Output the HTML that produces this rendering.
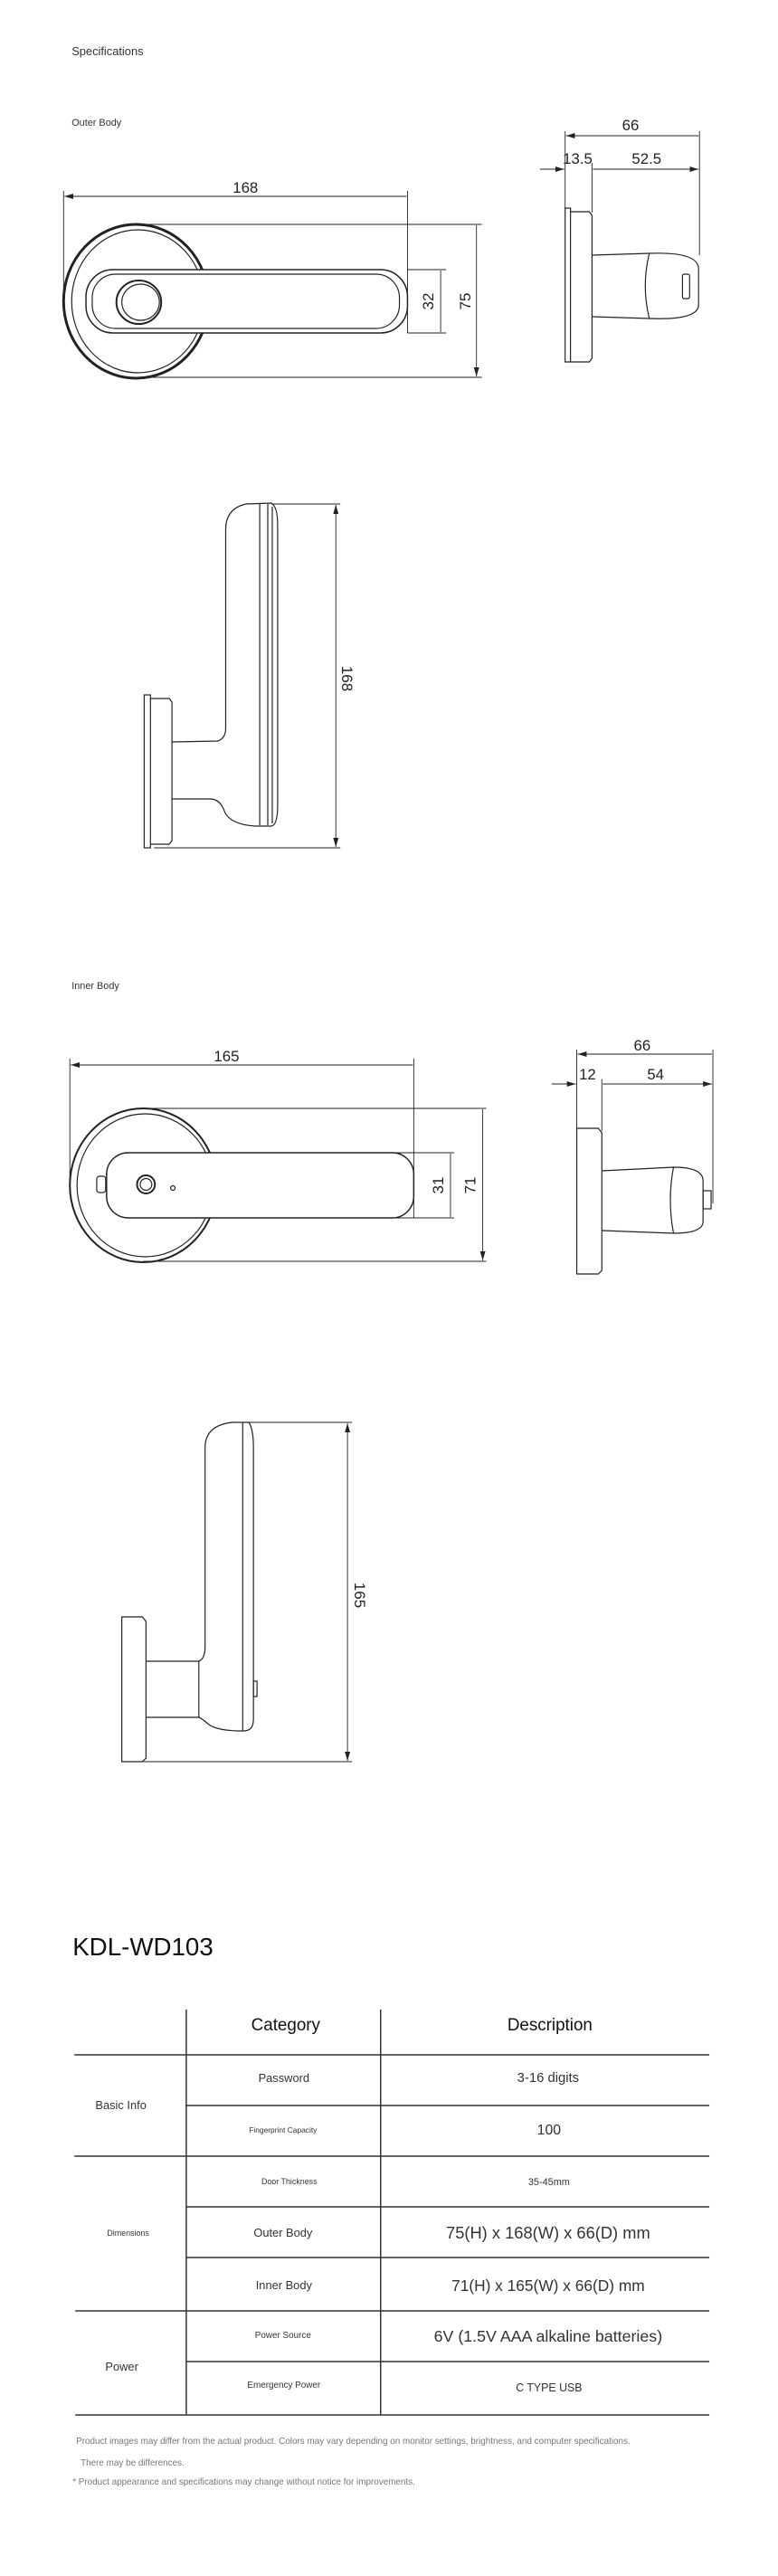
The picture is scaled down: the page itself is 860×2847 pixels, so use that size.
<!DOCTYPE html>
<html><head><meta charset="utf-8"><style>
html,body{margin:0;padding:0;background:#fff}
svg{display:block}
text{font-family:"Liberation Sans",sans-serif}
</style></head><body>
<svg width="860" height="2847" viewBox="0 0 860 2847" xmlns="http://www.w3.org/2000/svg">
<defs>
<marker id="a" viewBox="0 0 10 6" refX="10" refY="3" markerWidth="10" markerHeight="6" orient="auto-start-reverse" markerUnits="userSpaceOnUse"><path d="M0,0 L10,3 L0,6 Z" fill="#222"/></marker>
</defs>
<g transform="scale(0.99,1)">
<g fill="#333" font-size="13">
<text x="80" y="61">Specifications</text>
<text x="80" y="139" font-size="11">Outer Body</text>
<text x="80" y="1093" font-size="11">Inner Body</text>
</g>

<!-- OUTER FRONT -->
<g fill="none" stroke="#222" stroke-width="1.2">
<ellipse cx="152" cy="333" rx="81" ry="85" stroke-width="3"/>
<ellipse cx="154" cy="333" rx="74" ry="79"/>
<rect x="96" y="298" width="359" height="70" rx="30" fill="#fff" stroke-width="1.5"/>
<rect x="103" y="303" width="343" height="60" rx="26"/>
<ellipse cx="155" cy="334" rx="25" ry="24" stroke-width="2"/>
<ellipse cx="157" cy="334" rx="21" ry="20"/>
<path d="M71,211 V333 M455,211 V368 M158,248 H538 M158,417 H538 M455,298 H498 M455,368 H498" stroke-width="0.9"/>
<path d="M72,217 H454 M492,299 V367 M532,249 V416" marker-start="url(#a)" marker-end="url(#a)" stroke-width="0.9"/>
</g>
<g font-size="17" fill="#222" text-anchor="middle">
<text x="274" y="213">168</text>
<text transform="translate(484,333) rotate(-90)">32</text>
<text transform="translate(525,333) rotate(-90)">75</text>
</g>

<!-- OUTER SIDE -->
<g fill="none" stroke="#222" stroke-width="1.2">
<path d="M631,230 H637 V400 H631 Z"/>
<path d="M637,234 H658 L661,238 V396 L658,400 H637"/>
<path d="M661,282 L725,280 Q778,278 780,296 V338 Q778,354 725,352 L661,350"/>
<path d="M725,280 Q716,316 725,352"/>
<rect x="762" y="303" width="8" height="27" rx="2"/>
<path d="M631,145 V230 M661,180 V235 M781,145 V282" stroke-width="0.9"/>
<path d="M632,150 H780 M662,187 H780" marker-start="url(#a)" marker-end="url(#a)" stroke-width="0.9"/>
<path d="M603,187 H630" marker-end="url(#a)" stroke-width="0.9"/>
</g>
<g font-size="17" fill="#222" text-anchor="middle">
<text x="704" y="144">66</text>
<text x="645" y="181">13.5</text>
<text x="722" y="181">52.5</text>
</g>

<!-- OUTER LEVER SIDE -->
<g fill="none" stroke="#222" stroke-width="1.2">
<rect x="161" y="768" width="7" height="169"/>
<path d="M168,772 H189 L192,776 V929 L189,933 H168"/>
<path d="M192,820 L243,819 Q252,816 252,805 V585 Q252,562 275,557 L303,556 Q310,560 310,580 V890 Q310,912 303,913 L285,913 Q255,911 250,895 Q245,883 235,883 L192,883"/>
<path d="M290,557 V912 M299,557 V912 M304,560 V910"/>
<path d="M303,557 H380 M172,937 H380" stroke-width="0.9"/>
<path d="M375,558 V936" marker-start="url(#a)" marker-end="url(#a)" stroke-width="0.9"/>
</g>
<text transform="translate(382,750) rotate(90)" font-size="17" fill="#222" text-anchor="middle">168</text>

<!-- INNER FRONT -->
<g fill="none" stroke="#222" stroke-width="1.2">
<ellipse cx="160" cy="1310" rx="82" ry="85" stroke-width="2"/>
<ellipse cx="162" cy="1310" rx="76" ry="79"/>
<rect x="108" y="1300" width="10" height="18" rx="3"/>
<rect x="119" y="1274" width="343" height="72" rx="24" fill="#fff" stroke-width="1.5"/>
<circle cx="163" cy="1309" r="10" stroke-width="2"/>
<circle cx="163" cy="1309" r="6.5"/>
<circle cx="193" cy="1313" r="2.5"/>
<path d="M78,1170 V1310 M462,1170 V1346 M160,1225 H543 M160,1394 H543 M440,1274 H507 M440,1346 H507" stroke-width="0.9"/>
<path d="M79,1177 H461 M503,1275 V1345 M539,1226 V1393" marker-start="url(#a)" marker-end="url(#a)" stroke-width="0.9"/>
</g>
<g font-size="17" fill="#222" text-anchor="middle">
<text x="253" y="1173">165</text>
<text transform="translate(495,1310) rotate(-90)">31</text>
<text transform="translate(531,1310) rotate(-90)">71</text>
</g>

<!-- INNER SIDE -->
<g fill="none" stroke="#222" stroke-width="1.2">
<path d="M644,1247 H668 L672,1252 V1404 L668,1408 H644 Z"/>
<path d="M672,1294 L752,1290 Q785,1290 785,1305 V1350 Q785,1363 752,1363 L672,1360"/>
<path d="M752,1290 Q745,1326 752,1363"/>
<rect x="785" y="1316" width="9" height="20"/>
<path d="M644,1160 V1247 M672,1193 V1250 M796,1160 V1330" stroke-width="0.9"/>
<path d="M645,1165 H795 M673,1198 H795" marker-start="url(#a)" marker-end="url(#a)" stroke-width="0.9"/>
<path d="M616,1198 H643" marker-end="url(#a)" stroke-width="0.9"/>
</g>
<g font-size="17" fill="#222" text-anchor="middle">
<text x="717" y="1161">66</text>
<text x="656" y="1193">12</text>
<text x="732" y="1193">54</text>
</g>

<!-- INNER LEVER SIDE -->
<g fill="none" stroke="#222" stroke-width="1.2">
<path d="M136,1787 H159 L163,1792 V1943 L159,1947 H136 Z"/>
<path d="M163,1836 H222 V1898 H163"/>
<path d="M222,1836 L225,1834 Q229,1830 229,1820 V1600 Q229,1575 260,1572 L278,1572 Q283,1580 283,1600 V1900 Q283,1913 272,1913 L265,1913 Q240,1912 232,1905 Q225,1899 222,1898"/>
<path d="M271,1572 V1913"/>
<rect x="283" y="1858" width="4" height="17"/>
<path d="M276,1572 H393 M160,1947 H393" stroke-width="0.9"/>
<path d="M388,1573 V1946" marker-start="url(#a)" marker-end="url(#a)" stroke-width="0.9"/>
</g>
<text transform="translate(396,1763) rotate(90)" font-size="17" fill="#222" text-anchor="middle">165</text>

<!-- TABLE -->
<text x="81" y="2161" font-size="28" fill="#111">KDL-WD103</text>
<g stroke="#333" stroke-width="1.5">
<path d="M208,2221 V2669 M425,2221 V2669"/>
<path d="M83,2271 H792 M207,2327 H792 M83,2383 H792 M208,2439 H792 M208,2495 H792 M84,2554 H792 M208,2610 H792 M84,2669 H792"/>
</g>
<g text-anchor="middle" fill="#333">
<text x="319" y="2244" font-size="19" fill="#111">Category</text>
<text x="614" y="2244" font-size="19" fill="#111">Description</text>
<text x="317" y="2301" font-size="13">Password</text>
<text x="612" y="2301" font-size="15">3-16 digits</text>
<text x="135" y="2331" font-size="13">Basic Info</text>
<text x="316" y="2357" font-size="8.5">Fingerprint Capacity</text>
<text x="613" y="2359" font-size="16">100</text>
<text x="323" y="2414" font-size="9">Door Thickness</text>
<text x="613" y="2415" font-size="11">35-45mm</text>
<text x="143" y="2471" font-size="9">Dimensions</text>
<text x="316" y="2472" font-size="13">Outer Body</text>
<text x="612" y="2474" font-size="18.5">75(H) x 168(W) x 66(D) mm</text>
<text x="317" y="2530" font-size="13">Inner Body</text>
<text x="612" y="2532" font-size="17.5">71(H) x 165(W) x 66(D) mm</text>
<text x="316" y="2584" font-size="10">Power Source</text>
<text x="612" y="2588" font-size="18">6V (1.5V AAA alkaline batteries)</text>
<text x="136" y="2620" font-size="13">Power</text>
<text x="317" y="2639" font-size="10">Emergency Power</text>
<text x="613" y="2643" font-size="12.5">C TYPE USB</text>
</g>
<g fill="#777" font-size="10">
<text x="85" y="2701">Product images may differ from the actual product. Colors may vary depending on monitor settings, brightness, and computer specifications.</text>
<text x="90" y="2725">There may be differences.</text>
<text x="81" y="2746">* Product appearance and specifications may change without notice for improvements.</text>
</g>
</g>
</svg>
</body></html>
